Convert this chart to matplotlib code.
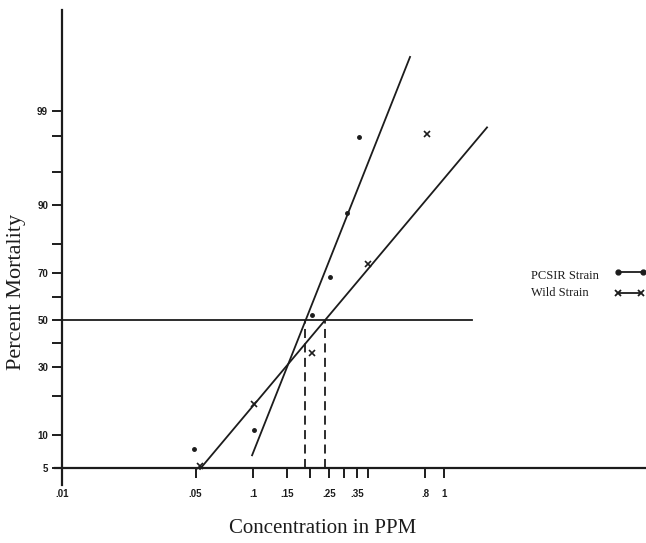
import numpy as np
import matplotlib
matplotlib.use("Agg")
import matplotlib.pyplot as plt
from statistics import NormalDist

# observed points (concentration in ppm, percent mortality)
pcsir_conc = [0.049, 0.101, 0.204, 0.253, 0.310, 0.359]
pcsir_mort = [7.5, 11.0, 52.2, 68.4, 88.3, 97.9]
wild_conc = [0.0528, 0.101, 0.204, 0.400, 0.815]
wild_mort = [5.2, 17.5, 35.7, 73.4, 98.1]

# fitted probit lines (end points) and LC50 values
pcsir_fit_conc = [0.0989, 0.664]
pcsir_fit_mort = [6.6, 99.83]
wild_fit_conc = [0.0528, 1.68]
wild_fit_mort = [4.86, 98.4]
lc50 = [0.188, 0.238]

y_ticks = [5, 10, 30, 50, 70, 90, 99]
y_minor = [20, 40, 60, 80, 95, 98]
x_ticks = [0.01, 0.05, 0.1, 0.15, 0.25, 0.35, 0.8, 1]
x_labels = [".01", ".05", ".1", ".15", ".25", ".35", ".8", "1"]
x_minor = [0.2, 0.3, 0.4]

legend_labels = ["PCSIR Strain", "Wild Strain"]

nd = NormalDist()


def probit(p):
    p = np.clip(np.asarray(p, dtype=float) / 100.0, 1e-9, 1 - 1e-9)
    return np.vectorize(nd.inv_cdf)(p)


def inv_probit(z):
    z = np.asarray(z, dtype=float)
    return np.vectorize(nd.cdf)(z) * 100.0


ink = "#1c1c1c"

fig = plt.figure(figsize=(6.46, 5.43), dpi=100)
ax = fig.add_axes([0, 0, 1, 1])
ax.set_xscale("log")
ax.set_yscale("function", functions=(probit, inv_probit))
ax.set_xlim(10 ** -2.3246, 10 ** 1.0576)
ax.set_ylim(float(inv_probit(-2.483)), float(inv_probit(3.563)))
ax.patch.set_alpha(0)

for s in ["top", "right"]:
    ax.spines[s].set_visible(False)
ax.spines["left"].set_position(("data", 0.01))
ax.spines["bottom"].set_position(("data", 5))
ax.spines["left"].set_bounds(float(inv_probit(-1.837)), float(inv_probit(3.452)))
ax.spines["bottom"].set_bounds(0.00919, 12)
for s in ["left", "bottom"]:
    ax.spines[s].set_linewidth(1.6)
    ax.spines[s].set_color(ink)

ax.set_yticks(y_ticks)
ax.set_yticklabels([str(v) for v in y_ticks])
ax.set_yticks(y_minor, minor=True)
ax.set_xticks(x_ticks)
ax.set_xticklabels(x_labels)
ax.set_xticks(x_minor, minor=True)
ax.xaxis.set_minor_formatter(matplotlib.ticker.NullFormatter())
ax.yaxis.set_minor_formatter(matplotlib.ticker.NullFormatter())
ax.tick_params(axis="both", which="both", direction="out", color=ink,
               width=1.4, labelsize=7, labelcolor=ink)
ax.tick_params(axis="y", which="both", length=7, pad=3)
ax.tick_params(axis="x", which="both", length=7, pad=8)
for lab in ax.get_xticklabels() + ax.get_yticklabels():
    lab.set_fontweight("bold")
    lab.set_family("Liberation Sans")

# reference lines
ax.plot([0.01, 1.40], [50, 50], color=ink, lw=1.3)
for c in lc50:
    ax.plot([c, c], [5, 50], color=ink, lw=1.3, dashes=(5, 3))

# fitted lines
ax.plot(pcsir_fit_conc, pcsir_fit_mort, color=ink, lw=1.3)
ax.plot(wild_fit_conc, wild_fit_mort, color=ink, lw=1.3)

# observations
ax.plot(pcsir_conc, pcsir_mort, "o", color=ink, ms=2.5, ls="none")
ax.plot(wild_conc, wild_mort, "x", color=ink, ms=4, mew=1.2, ls="none")

ax.text(0.026, 0.463, "Percent Mortality", transform=ax.transAxes,
        rotation=90, ha="center", va="center", family="Liberation Serif",
        fontsize=16, color=ink)
ax.text(0.499, 0.026, "Concentration in PPM", transform=ax.transAxes,
        ha="center", va="center", family="Liberation Serif",
        fontsize=15, color=ink)

# legend: text on the left, line sample on the right
ax.text(0.822, 0.492, legend_labels[0], transform=ax.transAxes,
        ha="left", va="center", family="Liberation Serif", fontsize=9,
        color=ink)
ax.text(0.822, 0.460, legend_labels[1], transform=ax.transAxes,
        ha="left", va="center", family="Liberation Serif", fontsize=9,
        color=ink)
ax.plot([0.957, 0.996], [0.499, 0.499], transform=ax.transAxes, color=ink,
        lw=1.3, marker="o", ms=3.5, clip_on=False)
ax.plot([0.957, 0.993], [0.461, 0.461], transform=ax.transAxes, color=ink,
        lw=1.3, marker="x", ms=4, mew=1.3, clip_on=False)

fig.savefig("out.png", dpi=100, facecolor="white")
